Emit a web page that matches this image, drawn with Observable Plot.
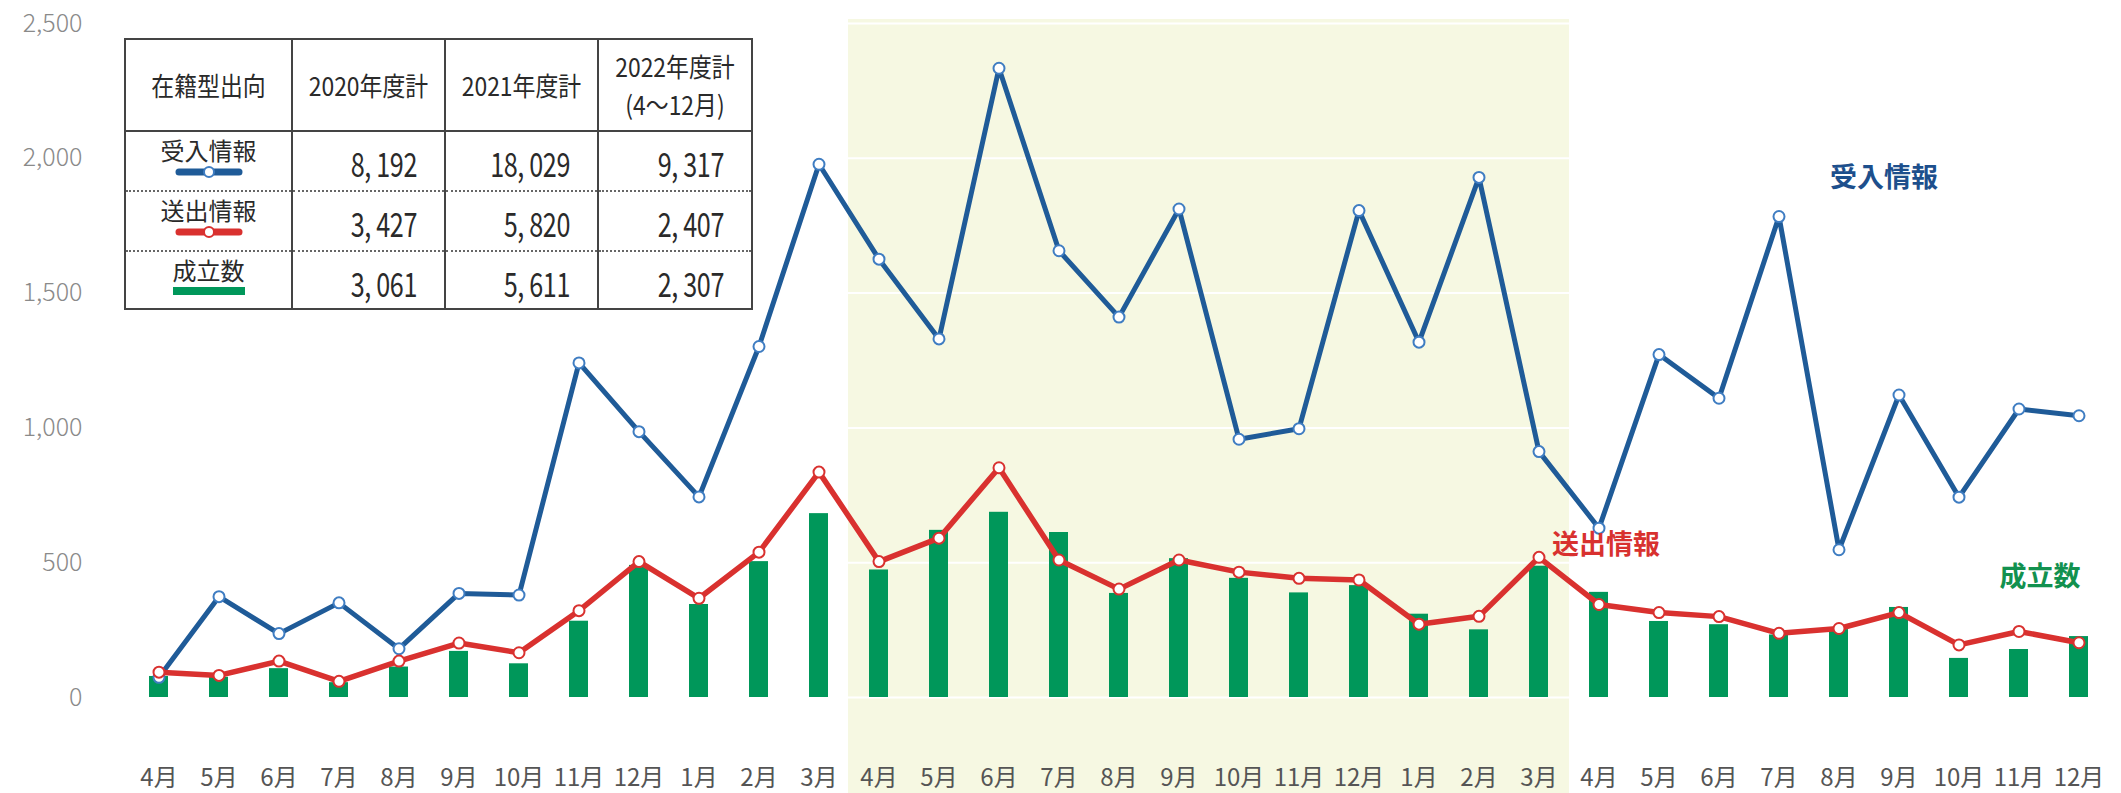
<!DOCTYPE html>
<html>
<head>
<meta charset="utf-8">
<script src="https://cdn.jsdelivr.net/npm/d3@7"></script>
<script src="https://cdn.jsdelivr.net/npm/@observablehq/plot@0.6"></script>
<style>
  html, body { margin: 0; padding: 0; background: #fff; }
  #wrap { position: relative; width: 2121px; height: 793px; overflow: hidden; }
  #legend { position: absolute; left: 124px; top: 38px; border-collapse: collapse; background: #fff;
    font-family: "Noto Sans CJK JP", "Noto Sans", sans-serif; color: #2a2a2a; table-layout: fixed; }
  #legend td { border-left: 2px solid #444; border-right: 2px solid #444; padding: 0; overflow: hidden; box-sizing: border-box; }
  #legend tr.head td { height: 92px; border-top: 2px solid #444; border-bottom: 2px solid #444; text-align: center; }
  #legend tr.head td span { display: block; font-size: 26px; line-height: 38px; transform: scaleX(0.88); transform-origin: center center; white-space: nowrap; }
  #legend tr.r1 td { height: 60px; border-bottom: 2px dotted #666; }
  #legend tr.r2 td { height: 60px; border-bottom: 2px dotted #666; }
  #legend tr.r3 td { height: 58px; border-bottom: 2px solid #444; }
  #legend td.name { text-align: center; font-size: 24px; line-height: 26px; vertical-align: top; padding-top: 5px; }
  #legend td.num { text-align: right; padding-right: 27px; vertical-align: top; white-space: nowrap; line-height: 1; }
  #legend td.num span { display: block; font-size: 34px; line-height: 30px; transform: scaleX(0.74); transform-origin: right center; margin-top: 16px; letter-spacing: -0.5px; }
  #legend td.name svg { display: block; margin: 3px auto 0; }
</style>
</head>
<body>
<div id="wrap">
  <div id="chart"></div>
  <table id="legend"><colgroup><col style="width:167px"><col style="width:153px"><col style="width:153px"><col style="width:154px"></colgroup><tbody></tbody></table>
</div>
<script>
// ---- data ----
const monthLabels = ["4月","5月","6月","7月","8月","9月","10月","11月","12月","1月","2月","3月",
                     "4月","5月","6月","7月","8月","9月","10月","11月","12月","1月","2月","3月",
                     "4月","5月","6月","7月","8月","9月","10月","11月","12月"];
const received = [75,374,237,351,181,386,380,1241,986,744,1302,1978,
                  1626,1330,2334,1657,1411,1812,958,997,1806,1318,1929,912,
                  628,1272,1110,1784,548,1122,743,1070,1045];
const sent     = [94,82,135,60,135,202,166,322,504,368,539,836,
                  504,591,852,510,402,510,465,442,436,272,301,520,
                  345,315,300,238,256,315,195,245,203];
const matched  = [78,75,107,55,113,171,125,283,490,345,504,682,
                  473,620,687,612,386,515,442,388,415,309,251,487,
                  390,282,270,232,252,334,145,178,226];
const highlightMonths = d3.range(12, 24);   // fiscal 2021 (4月〜3月)
const yTicks = [0, 500, 1000, 1500, 2000, 2500];

const seriesNames = ["受入情報", "送出情報", "成立数"];
const tableHeader = [["在籍型出向"], ["2020年度計"], ["2021年度計"], ["2022年度計", "(4〜12月)"]];
const tableRows = [
  ["8, 192", "18, 029", "9, 317"],
  ["3, 427", "5, 820", "2, 407"],
  ["3, 061", "5, 611", "2, 307"]
];
// annotation labels: anchored at a month index and a value
const annotations = [
  {text: "受入情報", i: 29, v: 1926, dx: -15, color: "#1d4f8c"},
  {text: "送出情報", i: 24, v: 566, dx: 7, color: "#d8312f"},
  {text: "成立数", i: 32, v: 447, dx: -39, color: "#12914f"}
];

const BLUE = "#1f5b98", BLUE_DOT = "#3f7dc2", RED = "#d9312f", GREEN = "#00975a";

const idx = d3.range(monthLabels.length);
const data = idx.map(i => ({i, received: received[i], sent: sent[i], matched: matched[i]}));
const band = data.filter(d => highlightMonths.includes(d.i));

const chart = Plot.plot({
  width: 2121,
  height: 793,
  marginLeft: 115,
  marginRight: 0,
  marginTop: 23,
  marginBottom: 96,
  style: {fontFamily: "'Noto Sans CJK JP', 'Noto Sans', sans-serif", background: "transparent", overflow: "visible"},
  x: {type: "band", domain: idx, paddingInner: 0.69, paddingOuter: 0.345, label: null},
  y: {domain: [0, 2500], label: null},
  marks: [
    Plot.barY(band, {x: "i", y1: -400, y2: 2515, fill: "#f6f8e2", insetLeft: -21.2, insetRight: -21.2,
                     shapeRendering: "crispEdges"}),
    Plot.gridY(yTicks, {stroke: "#ffffff", strokeOpacity: 1, strokeWidth: 2}),
    Plot.axisX({tickFormat: i => monthLabels[i], tickSize: 0, tickPadding: 71, label: null}),
    Plot.axisY(yTicks, {tickFormat: d3.format(","), tickSize: 0, tickPadding: 33, label: null}),
    Plot.barY(data, {x: "i", y: "matched", fill: GREEN}),
    Plot.line(data, {x: "i", y: "received", stroke: BLUE, strokeWidth: 5}),
    Plot.dot(data, {x: "i", y: "received", r: 5.5, fill: "white", stroke: BLUE_DOT, strokeWidth: 2}),
    Plot.line(data, {x: "i", y: "sent", stroke: RED, strokeWidth: 5.5}),
    Plot.dot(data, {x: "i", y: "sent", r: 5.5, fill: "white", stroke: RED, strokeWidth: 2}),
    ...annotations.map(a => Plot.text([a], {x: "i", y: "v", text: "text", dx: a.dx, fill: a.color,
                            fontSize: 27, fontWeight: "bold"}))
  ]
});
document.getElementById("chart").appendChild(chart);

// axis text styling
d3.select(chart).selectAll("g[aria-label='y-axis tick label']")
  .attr("font-size", 25).attr("fill", "#8a8a8a").attr("font-weight", 300);
d3.select(chart).selectAll("g[aria-label='x-axis tick label']")
  .attr("font-size", 24).attr("fill", "#555");

// ---- legend table ----
const swatch = [
  `<svg width="72" height="12"><line x1="6" y1="6" x2="66" y2="6" stroke="${BLUE}" stroke-width="7" stroke-linecap="round"/><circle cx="36" cy="6" r="5" fill="white" stroke="${BLUE_DOT}" stroke-width="2"/></svg>`,
  `<svg width="72" height="12"><line x1="6" y1="6" x2="66" y2="6" stroke="${RED}" stroke-width="7" stroke-linecap="round"/><circle cx="36" cy="6" r="5" fill="white" stroke="${RED}" stroke-width="2"/></svg>`,
  `<svg width="72" height="10"><rect x="0" y="1" width="72" height="8" fill="${GREEN}"/></svg>`
];
const tbody = document.querySelector("#legend tbody");
let html = `<tr class="head">${tableHeader.map(h => `<td>${h.map(s => `<span>${s}</span>`).join("")}</td>`).join("")}</tr>`;
tableRows.forEach((row, r) => {
  html += `<tr class="r${r + 1}"><td class="name">${seriesNames[r]}${swatch[r]}</td>${row.map(v => `<td class="num"><span>${v}</span></td>`).join("")}</tr>`;
});
tbody.innerHTML = html;
</script>
</body>
</html>
